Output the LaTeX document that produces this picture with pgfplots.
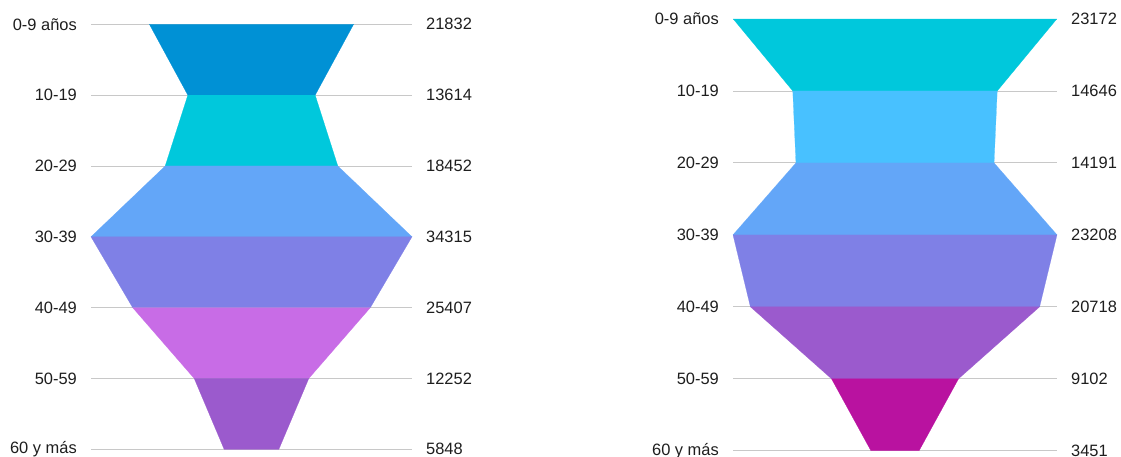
\documentclass[border=0pt]{standalone}
\usepackage{fontspec}
\setmainfont{Liberation Sans}
\usepackage{pgfplots}
\pgfplotsset{compat=1.18}
\definecolor{cBlue}{RGB}{0,145,213}
\definecolor{cCyan}{RGB}{0,200,220}
\definecolor{cSky}{RGB}{72,193,255}
\definecolor{cLight}{RGB}{99,166,248}
\definecolor{cPeri}{RGB}{127,128,230}
\definecolor{cViolet}{RGB}{200,108,230}
\definecolor{cPurple}{RGB}{155,90,205}
\definecolor{cMagenta}{RGB}{185,18,160}
\definecolor{cGrid}{RGB}{200,200,200}
\definecolor{cText}{RGB}{30,30,30}
\pgfplotsset{
  funnel/.style={
    scale only axis, y dir=reverse, ymin=0, ymax=6, ytick={0,...,6},
    xtick=\empty, axis line style={draw=none}, major tick length=0pt,
    tick label style={font=\fontsize{16.5}{19}\selectfont, text=cText},
    clip=false
  },
  funnelL/.style={funnel, ymajorgrids, grid style={draw=cGrid, line width=0.9pt},
    yticklabel style={inner sep=0pt, anchor=east, xshift=-14bp}},
  funnelR/.style={funnel, yticklabel pos=right,
    yticklabel style={inner sep=0pt, anchor=west, xshift=14bp}},
}
\begin{document}
\begin{tikzpicture}
\useasboundingbox (0,0) rectangle (1121bp,-457bp);
% ---------- left chart ----------
\begin{axis}[funnelL, at={(91bp,-24.3bp)}, anchor=north west,
  width=321bp, height=425bp, xmin=-34315, xmax=34315,
  yticklabels={0-9 años,10-19,20-29,30-39,40-49,50-59,60 y más}]
\addplot[fill=cBlue, draw=cBlue, line width=0.2pt] coordinates {(-21832,0) (21832,0) (13614,1) (-13614,1)} --cycle;
\addplot[fill=cCyan, draw=cCyan, line width=0.2pt] coordinates {(-13614,1) (13614,1) (18452,2) (-18452,2)} --cycle;
\addplot[fill=cLight, draw=cLight, line width=0.2pt] coordinates {(-18452,2) (18452,2) (34315,3) (-34315,3)} --cycle;
\addplot[fill=cPeri, draw=cPeri, line width=0.2pt] coordinates {(-34315,3) (34315,3) (25407,4) (-25407,4)} --cycle;
\addplot[fill=cViolet, draw=cViolet, line width=0.2pt] coordinates {(-25407,4) (25407,4) (12252,5) (-12252,5)} --cycle;
\addplot[fill=cPurple, draw=cPurple, line width=0.2pt] coordinates {(-12252,5) (12252,5) (5848,6) (-5848,6)} --cycle;
\end{axis}
\begin{axis}[funnelR, at={(91bp,-24.3bp)}, anchor=north west,
  width=321bp, height=425bp, xmin=-34315, xmax=34315,
  yticklabels={21832,13614,18452,34315,25407,12252,5848}]
\addplot[draw=none] coordinates {(0,0)};
\end{axis}
% ---------- right chart ----------
\begin{axis}[funnelL, at={(733bp,-19bp)}, anchor=north west,
  width=324bp, height=431.7bp, xmin=-23208, xmax=23208,
  yticklabels={0-9 años,10-19,20-29,30-39,40-49,50-59,60 y más}]
\addplot[fill=cCyan, draw=cCyan, line width=0.2pt] coordinates {(-23172,0) (23172,0) (14646,1) (-14646,1)} --cycle;
\addplot[fill=cSky, draw=cSky, line width=0.2pt] coordinates {(-14646,1) (14646,1) (14191,2) (-14191,2)} --cycle;
\addplot[fill=cLight, draw=cLight, line width=0.2pt] coordinates {(-14191,2) (14191,2) (23208,3) (-23208,3)} --cycle;
\addplot[fill=cPeri, draw=cPeri, line width=0.2pt] coordinates {(-23208,3) (23208,3) (20718,4) (-20718,4)} --cycle;
\addplot[fill=cPurple, draw=cPurple, line width=0.2pt] coordinates {(-20718,4) (20718,4) (9102,5) (-9102,5)} --cycle;
\addplot[fill=cMagenta, draw=cMagenta, line width=0.2pt] coordinates {(-9102,5) (9102,5) (3451,6) (-3451,6)} --cycle;
\end{axis}
\begin{axis}[funnelR, at={(733bp,-19bp)}, anchor=north west,
  width=324bp, height=431.7bp, xmin=-23208, xmax=23208,
  yticklabels={23172,14646,14191,23208,20718,9102,3451}]
\addplot[draw=none] coordinates {(0,0)};
\end{axis}
\end{tikzpicture}
\end{document}
